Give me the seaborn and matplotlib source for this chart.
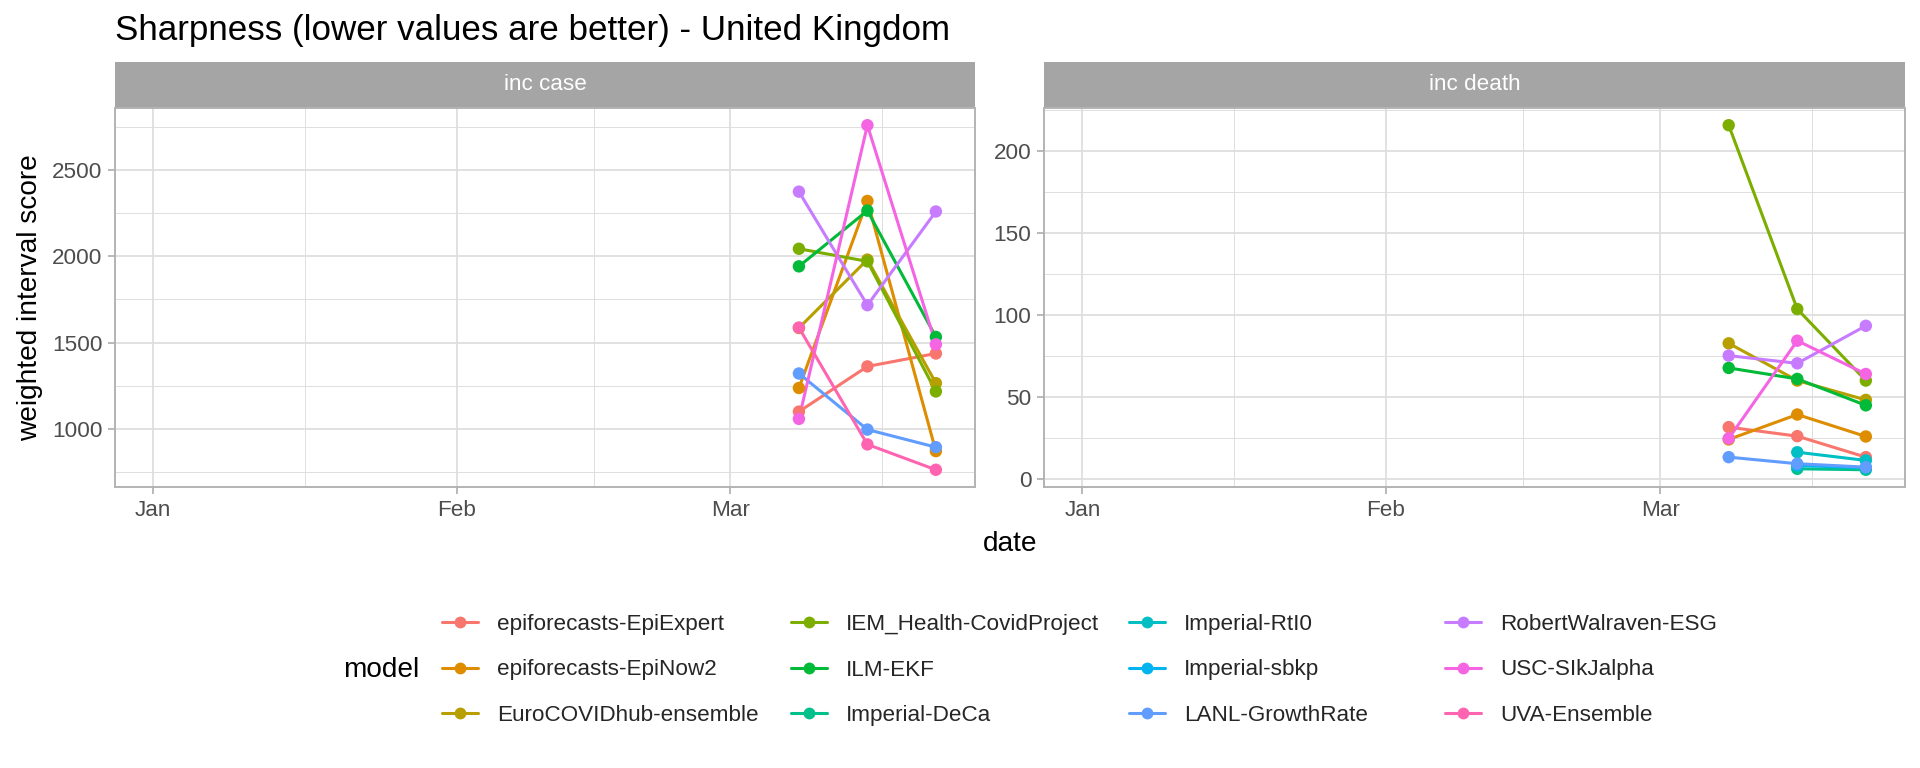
import numpy as np
import pandas as pd
import matplotlib
matplotlib.use("Agg")
import matplotlib.pyplot as plt
import matplotlib.dates as mdates
from matplotlib.lines import Line2D
from matplotlib.patches import Rectangle
import seaborn as sns

# ---------------- data ----------------
dates = ["2021-03-08", "2021-03-15", "2021-03-22"]

models = ["epiforecasts-EpiExpert", "epiforecasts-EpiNow2", "EuroCOVIDhub-ensemble",
          "IEM_Health-CovidProject", "ILM-EKF", "Imperial-DeCa", "Imperial-RtI0",
          "Imperial-sbkp", "LANL-GrowthRate", "RobertWalraven-ESG", "USC-SIkJalpha",
          "UVA-Ensemble"]

colors = ["#F8766D", "#DE8C00", "#B79F00", "#7CAE00", "#00BA38", "#00C08B",
          "#00BFC4", "#00B4F0", "#619CFF", "#C77CFF", "#F564E3", "#FF64B0"]

# inc case (weighted interval score)
case_epiexpert = [1100, 1362, 1437]
case_epinow2 = [1237, 2321, 871]
case_eurohub = [1585, 1981, 1265]
case_iem = [2044, 1971, 1217]
case_ilm = [1942, 2265, 1533]
case_lanl = [1321, 996, 894]
case_walraven = [2375, 1717, 2260]
case_usc = [1058, 2760, 1490]
case_uva = [1587, 910, 763]

# inc death (NaN = no forecast that week)
death_epiexpert = [31.7, 26.2, 13.4]
death_epinow2 = [24.2, 39.4, 26.0]
death_eurohub = [82.8, 60.1, 48.3]
death_iem = [215.8, 103.7, 60.1]
death_ilm = [67.8, 61.1, 45.0]
death_deca = [np.nan, 6.3, 5.7]
death_rti0 = [np.nan, 16.4, 11.4]
death_sbkp = [np.nan, 8.3, 6.9]
death_lanl = [13.4, 9.4, 7.3]
death_walraven = [75.3, 70.6, 93.5]
death_usc = [24.8, 84.4, 64.1]

case_series = {
    "epiforecasts-EpiExpert": case_epiexpert,
    "epiforecasts-EpiNow2": case_epinow2,
    "EuroCOVIDhub-ensemble": case_eurohub,
    "IEM_Health-CovidProject": case_iem,
    "ILM-EKF": case_ilm,
    "LANL-GrowthRate": case_lanl,
    "RobertWalraven-ESG": case_walraven,
    "USC-SIkJalpha": case_usc,
    "UVA-Ensemble": case_uva,
}
death_series = {
    "epiforecasts-EpiExpert": death_epiexpert,
    "epiforecasts-EpiNow2": death_epinow2,
    "EuroCOVIDhub-ensemble": death_eurohub,
    "IEM_Health-CovidProject": death_iem,
    "ILM-EKF": death_ilm,
    "Imperial-DeCa": death_deca,
    "Imperial-RtI0": death_rti0,
    "Imperial-sbkp": death_sbkp,
    "LANL-GrowthRate": death_lanl,
    "RobertWalraven-ESG": death_walraven,
    "USC-SIkJalpha": death_usc,
}

rows = []
for target, series in [("inc case", case_series), ("inc death", death_series)]:
    for m, vals in series.items():
        for d, v in zip(dates, vals):
            if not np.isnan(v):
                rows.append({"target": target, "model": m,
                             "date": pd.Timestamp(d), "wis": v})
df = pd.DataFrame(rows)
palette = dict(zip(models, colors))

# ---------------- style ----------------
sns.set_theme(style="white")
plt.rcParams["font.family"] = ["Liberation Sans", "DejaVu Sans"]

W, H = 1920, 768
fig = plt.figure(figsize=(W / 100, H / 100), dpi=100)

def fx(px):
    return px / W

def fy(py):
    return 1 - py / H

panel_top, panel_bot = 108, 487
strip_h = 46
panels = [("inc case", 115, 975), ("inc death", 1044, 1905)]

xlim = (pd.Timestamp("2020-12-28 02:00"), pd.Timestamp("2021-03-26"))
month_starts = pd.to_datetime(["2020-12-01", "2021-01-01", "2021-02-01",
                               "2021-03-01", "2021-04-01"])
minor = [month_starts[i] + (month_starts[i + 1] - month_starts[i]) / 2
         for i in range(len(month_starts) - 1)]

grid_col = "#DEDEDE"
border_col = "#B3B3B3"
tick_fs = 16.2
lw = 2.2

for target, x0, x1 in panels:
    ax = fig.add_axes([fx(x0), fy(panel_bot), (x1 - x0) / W,
                       (panel_bot - panel_top) / H])
    sub = df[df["target"] == target]
    order = [m for m in models if m in set(sub["model"])]
    sns.lineplot(data=sub, x="date", y="wis", hue="model", hue_order=order,
                 palette=palette, linewidth=lw, legend=False, ax=ax,
                 sort=True, estimator=None, zorder=3)
    sns.scatterplot(data=sub, x="date", y="wis", hue="model", hue_order=order,
                    palette=palette, s=80, linewidth=0, legend=False, ax=ax,
                    zorder=4)
    ax.set_xlim(*xlim)
    lo, hi = sub["wis"].min(), sub["wis"].max()
    pad = (hi - lo) * 0.05
    ax.set_ylim(lo - pad, hi + pad)

    ax.xaxis.set_major_locator(mdates.MonthLocator())
    ax.xaxis.set_major_formatter(mdates.DateFormatter("%b"))
    ax.xaxis.set_minor_locator(matplotlib.ticker.FixedLocator(mdates.date2num(minor)))
    if target == "inc case":
        ax.set_yticks([1000, 1500, 2000, 2500])
        ax.set_yticks([750, 1250, 1750, 2250, 2750], minor=True)
    else:
        ax.set_yticks([0, 50, 100, 150, 200])
        ax.set_yticks([25, 75, 125, 175, 225], minor=True)

    ax.grid(True, which="major", color=grid_col, linewidth=1.3, zorder=0)
    ax.grid(True, which="minor", color=grid_col, linewidth=0.7, zorder=0)
    ax.set_axisbelow(True)
    for s in ax.spines.values():
        s.set_color(border_col)
        s.set_linewidth(1.4)
    ax.tick_params(axis="both", which="major", length=5, width=1.3,
                   color=border_col, labelsize=tick_fs, labelcolor="#4D4D4D",
                   pad=4, left=True, bottom=True)
    ax.tick_params(axis="both", which="minor", length=0)
    ax.set_xlabel("")
    ax.set_ylabel("")

    # facet strip
    sh = strip_h / (panel_bot - panel_top)
    ax.add_patch(Rectangle((0, 1), 1, sh, transform=ax.transAxes,
                           facecolor="#A5A5A5", edgecolor="none", clip_on=False))
    ax.text(0.5, 1 + sh / 2, target, transform=ax.transAxes, ha="center",
            va="center", color="white", fontsize=16.2)

# titles / labels
fig.text(fx(115), fy(40), "Sharpness (lower values are better) - United Kingdom",
         fontsize=25.2, ha="left", va="baseline", color="black")
fig.text(fx(30), fy(297.5), "weighted interval score", rotation=90,
         fontsize=20.2, ha="center", va="center", color="black")
fig.text(fx(1010), fy(544), "date", fontsize=20.2, ha="center", va="center",
         color="black")

# legend (4 columns of 3, filled column-wise, title on the left)
fig.text(fx(343), fy(670), "model", fontsize=20.2, ha="left", va="center",
         color="black")
handles = [Line2D([0], [0], color=c, linewidth=lw, marker="o", markersize=8.5,
                  markeredgewidth=0) for c in colors]
col_text_x = [497, 846, 1184, 1500]
for j, tx in enumerate(col_text_x):
    leg = fig.legend(handles[3 * j:3 * j + 3], models[3 * j:3 * j + 3],
                     loc="center left", bbox_to_anchor=(fx(tx - 55), fy(670)),
                     ncol=1, frameon=False, fontsize=16.2, handlelength=1.6,
                     handletextpad=0.85, labelspacing=1.1, borderpad=0,
                     borderaxespad=0)

fig.savefig("out.png", dpi=100)
